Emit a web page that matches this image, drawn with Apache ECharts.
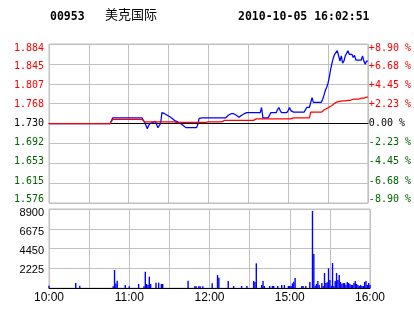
<!DOCTYPE html>
<html><head><meta charset="utf-8">
<script src="https://cdn.jsdelivr.net/npm/echarts@6/dist/echarts.min.js"></script>
<style>html,body{margin:0;padding:0;background:#fff}#c{width:414px;height:314px}</style>
</head><body><div id="c"></div>
<script>
const stockCode = '00953';
const stockName = '美克国际';
const stamp = '2010-10-05 16:02:51';
const prevClose = 1.730;
const timeLabels = {0:'10:00', 60:'11:00', 120:'12:00', 180:'15:00', 240:'16:00'};
const priceTicks = ['1.576','1.615','1.653','1.692','1.730','1.768','1.807','1.845','1.884'];
const pctTicks = ['-8.90 %','-6.68 %','-4.45 %','-2.23 %','0.00 %','+2.23 %','+4.45 %','+6.68 %','+8.90 %'];
const volTicks = ['','2225','4450','6675','8900'];

// minute-by-minute last price (10:00 .. 12:30 | 14:30 .. 16:00)
const price = [
1.730,1.730,1.730,1.730,1.730,1.730,1.730,1.730,1.730,1.730,
1.730,1.730,1.730,1.730,1.730,1.730,1.730,1.730,1.730,1.730,
1.730,1.730,1.730,1.730,1.730,1.730,1.730,1.730,1.730,1.730,
1.730,1.730,1.730,1.730,1.730,1.730,1.730,1.730,1.730,1.730,
1.730,1.730,1.730,1.730,1.730,1.730,1.730,1.730,1.741,1.741,
1.741,1.741,1.741,1.741,1.741,1.741,1.741,1.741,1.741,1.741,
1.741,1.741,1.741,1.741,1.741,1.741,1.741,1.741,1.741,1.741,
1.741,1.741,1.732,1.726,1.720,1.726,1.730,1.732,1.732,1.734,
1.734,1.728,1.722,1.722,1.730,1.751,1.750,1.749,1.748,1.746,
1.745,1.743,1.740,1.739,1.737,1.735,1.734,1.733,1.731,1.730,
1.728,1.726,1.724,1.722,1.722,1.722,1.722,1.722,1.722,1.722,
1.722,1.722,1.728,1.740,1.741,1.741,1.741,1.741,1.741,1.741,
1.741,1.741,1.741,1.741,1.741,1.741,1.741,1.741,1.741,1.741,
1.741,1.741,1.741,1.741,1.741,1.746,1.748,1.749,1.751,1.749,
1.748,1.746,1.744,1.742,1.741,1.746,1.748,1.749,1.751,1.751,
1.751,1.751,1.751,1.751,1.751,1.751,1.751,1.751,1.751,1.751,
1.761,1.741,1.741,1.741,1.741,1.741,1.741,1.751,1.751,1.751,
1.751,1.751,1.757,1.761,1.755,1.751,1.751,1.751,1.751,1.751,
1.755,1.761,1.755,1.753,1.752,1.752,1.752,1.752,1.752,1.752,
1.752,1.752,1.752,1.752,1.761,1.761,1.761,1.761,1.780,1.771,
1.771,1.771,1.771,1.771,1.771,1.771,1.777,1.785,1.794,1.800,
1.808,1.820,1.835,1.847,1.857,1.864,1.866,1.871,1.861,1.851,
1.861,1.847,1.851,1.861,1.866,1.871,1.864,1.864,1.864,1.858,
1.862,1.853,1.853,1.853,1.853,1.853,1.861,1.851,1.845,1.851,
1.851
];

// minute-by-minute average price
const avgPrice = [
1.730,1.730,1.730,1.730,1.730,1.730,1.730,1.730,1.730,1.730,
1.730,1.730,1.730,1.730,1.730,1.730,1.730,1.730,1.730,1.730,
1.730,1.730,1.730,1.730,1.730,1.730,1.730,1.730,1.730,1.730,
1.730,1.730,1.730,1.730,1.730,1.730,1.730,1.730,1.730,1.730,
1.730,1.730,1.730,1.730,1.730,1.730,1.730,1.730,1.738,1.738,
1.738,1.738,1.738,1.738,1.738,1.738,1.738,1.738,1.738,1.738,
1.738,1.738,1.738,1.738,1.738,1.738,1.738,1.738,1.738,1.738,
1.738,1.738,1.733,1.733,1.733,1.733,1.733,1.733,1.733,1.733,
1.733,1.733,1.733,1.733,1.733,1.733,1.733,1.733,1.733,1.733,
1.733,1.733,1.733,1.733,1.733,1.733,1.732,1.732,1.732,1.732,
1.732,1.732,1.732,1.732,1.732,1.732,1.732,1.732,1.732,1.732,
1.732,1.732,1.732,1.732,1.732,1.732,1.732,1.732,1.732,1.732,
1.733,1.733,1.733,1.733,1.733,1.733,1.733,1.733,1.733,1.733,
1.733,1.736,1.736,1.736,1.736,1.736,1.736,1.736,1.736,1.736,
1.736,1.736,1.736,1.736,1.736,1.736,1.736,1.736,1.736,1.736,
1.736,1.736,1.736,1.736,1.736,1.739,1.739,1.739,1.739,1.739,
1.739,1.739,1.739,1.739,1.739,1.739,1.739,1.739,1.739,1.739,
1.739,1.739,1.739,1.739,1.739,1.739,1.739,1.739,1.739,1.739,
1.739,1.739,1.739,1.741,1.741,1.741,1.741,1.741,1.741,1.741,
1.741,1.741,1.741,1.741,1.741,1.741,1.741,1.752,1.752,1.752,
1.752,1.752,1.752,1.752,1.752,1.752,1.753,1.756,1.757,1.759,
1.761,1.762,1.764,1.765,1.767,1.769,1.770,1.772,1.773,1.773,
1.774,1.774,1.774,1.774,1.775,1.775,1.775,1.775,1.775,1.777,
1.777,1.777,1.777,1.777,1.779,1.779,1.779,1.779,1.779,1.781,
1.781
];

// volume: minute index and traded volume
const volMinute = [0,20,23,48,49,50,51,57,60,67,71,72,73,74,75,76,80,82,84,85,104,109,110,112,113,115,
122,126,127,134,138,144,148,153,154,155,159,160,161,165,167,168,171,174,176,179,180,181,182,183,184,
189,190,192,195,197,198,199,200,201,202,204,205,206,207,208,209,210,211,212,213,214,215,216,217,218,
219,220,221,222,223,224,225,226,227,228,229,230,231,232,233,234,235,236,237,238,239,240];
const volValue = [250,560,250,200,2030,500,820,340,200,450,200,1840,450,340,1280,450,600,600,450,450,820,200,200,200,200,200,
530,1460,1160,790,230,230,230,790,680,2780,340,790,230,230,230,230,230,340,340,230,230,230,530,700,1130,
230,230,230,680,8680,3830,260,450,790,340,560,230,1690,560,640,2220,900,260,2820,230,790,1690,900,1460,680,
450,560,560,340,680,560,450,340,340,560,790,450,340,230,340,230,230,680,790,340,560,340];

const RED = '#ff0000', GREEN = '#006400', BLACK = '#000000', GRID = '#c0c0c0', BLUE = '#0000ff';
const mono = 'DejaVu Sans Mono';
const sans = 'Liberation Sans';

const priceColors = priceTicks.map((t,k)=> k>4 ? RED : (k<4 ? GREEN : BLACK));
const priceOffsets = [-3.2,-2,-1.4,-0.8,0,0.5,2,2.8,4];
const volOffsets = [0,1.7,2.5,3.5,4];

function richStyles(colors, offsets, family, size) {
  const r = {};
  offsets.forEach((d,k)=>{
    r['t'+k] = {
      color: colors[k], fontFamily: family, fontSize: size,
      padding: d >= 0 ? [2*d,0,0,0] : [0,0,-2*d,0]
    };
  });
  return r;
}
const priceIdx = v => Math.round((v + 154) / 38.5);

const chart = echarts.init(document.getElementById('c'), null, {renderer:'canvas'});
chart.setOption({
  animation: false,
  backgroundColor: '#ffffff',
  graphic: [
    {type:'text', left:50, top:11, style:{text:stockCode, fontFamily:mono, fontWeight:'bold', fontSize:11.5, fill:'#000'}},
    {type:'text', left:105, top:8, style:{text:stockName, fontFamily:'Noto Sans CJK SC', fontSize:13, fill:'#000'}},
    {type:'text', left:238, top:11, style:{text:stamp, fontFamily:mono, fontWeight:'bold', fontSize:11.5, fill:'#000'}}
  ],
  grid: [
    {left:49, top:44, width:321, height:159, show:true, borderColor:GRID, borderWidth:1},
    {left:49, top:209, width:321, height:79, show:true, borderColor:GRID, borderWidth:1}
  ],
  xAxis: [
    {type:'value', gridIndex:0, min:0, max:240, interval:30,
     axisLine:{show:true, lineStyle:{color:BLACK, width:1}}, axisTick:{show:false}, axisLabel:{show:false},
     splitLine:{show:true, lineStyle:{color:GRID, width:1}}},
    {type:'value', gridIndex:1, min:0, max:240, interval:30,
     axisLine:{show:true, lineStyle:{color:BLACK, width:1}}, axisTick:{show:false},
     axisLabel:{show:true, margin:4, color:BLACK, fontFamily:sans, fontSize:12, formatter:v=>timeLabels[v]||''},
     splitLine:{show:true, lineStyle:{color:GRID, width:1}}}
  ],
  yAxis: [
    {type:'value', gridIndex:0, position:'left', min:-154, max:154, interval:38.5,
     axisLine:{show:false}, axisTick:{show:false},
     splitLine:{show:true, lineStyle:{color:[GRID,GRID,GRID,GRID,BLACK,GRID,GRID,GRID,GRID], width:1}},
     axisLabel:{margin:5, formatter:v=>{const k=priceIdx(v); return '{t'+k+'|'+priceTicks[k]+'}';},
       rich: richStyles(priceColors, priceOffsets, mono, 10)}},
    {type:'value', gridIndex:0, position:'right', min:-154, max:154, interval:38.5,
     axisLine:{show:false}, axisTick:{show:false}, splitLine:{show:false},
     axisLabel:{margin:1, formatter:v=>{const k=priceIdx(v); return '{t'+k+'|'+pctTicks[k]+'}';},
       rich: richStyles(priceColors, priceOffsets, mono, 10)}},
    {type:'value', gridIndex:1, position:'left', min:0, max:8900, interval:2225,
     axisLine:{show:false}, axisTick:{show:false},
     splitLine:{show:true, lineStyle:{color:GRID, width:1}},
     axisLabel:{margin:5, formatter:v=>{const k=Math.round(v/2225); return volTicks[k] ? '{t'+k+'|'+volTicks[k]+'}' : '';},
       rich: richStyles(volTicks.map(()=>BLACK), volOffsets, sans, 11)}}
  ],
  series: [
    {type:'line', name:'price', xAxisIndex:0, yAxisIndex:0, z:2,
     data: price.map((p,i)=>[i, (p - prevClose) * 1000]),
     showSymbol:false, symbol:'none', lineStyle:{color:BLUE, width:1.25}, itemStyle:{color:BLUE}},
    {type:'line', name:'avg', xAxisIndex:0, yAxisIndex:0, z:3,
     data: avgPrice.map((p,i)=>[i, (p - prevClose) * 1000]),
     showSymbol:false, symbol:'none', lineStyle:{color:RED, width:1.25}, itemStyle:{color:RED}},
    {type:'bar', name:'vol', xAxisIndex:1, yAxisIndex:2, barWidth:1.4,
     data: volMinute.map((m,i)=>[m, volValue[i]]), itemStyle:{color:BLUE}}
  ]
});
</script></body></html>
